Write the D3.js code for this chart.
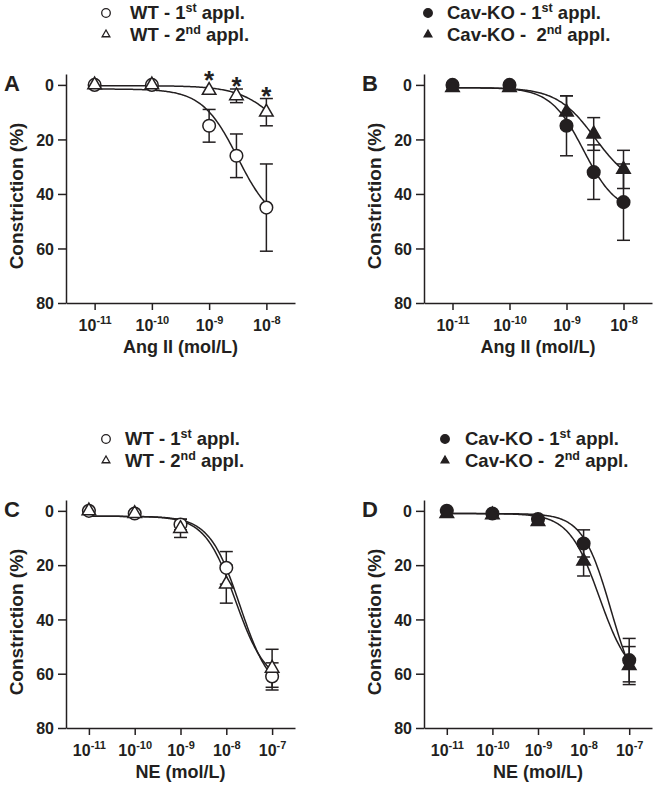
<!DOCTYPE html>
<html>
<head>
<meta charset="utf-8">
<script src="https://cdn.jsdelivr.net/npm/d3@7"></script>
<style>
body{margin:0;background:#fff}
svg text{font-family:"Liberation Sans",Arial,sans-serif;font-weight:bold;fill:#231f20;white-space:pre}
</style>
</head>
<body>
<svg width="654" height="786"></svg>
<script>
// concentrations (mol/L)
const angConc = [1e-11, 1e-10, 1e-9, 3e-9, 1e-8]
const neConc = [1e-11, 1e-10, 1e-9, 1e-8, 1e-7]
const angTicks = [1e-11, 1e-10, 1e-9, 1e-8]
const neTicks = [1e-11, 1e-10, 1e-9, 1e-8, 1e-7]
const yTicks = [0, 20, 40, 60, 80]

// constriction (%) mean and error
const wt1Ang = [0, 0, 15, 26, 45],   wt1AngErr = [0, 0, 6, 8, 16]
const wt2Ang = [0, 0, 2, 4, 10],     wt2AngErr = [0, 0, 0, 2.5, 5]
const ko1Ang = [0, 0, 15, 32, 43],   ko1AngErr = [0, 0, 11, 10, 14]
const ko2Ang = [1, 1, 10, 18, 31],   ko2AngErr = [0, 0, 6, 6, 7]
const wt1Ne = [0, 1, 5, 21, 61],     wt1NeErr = [0, 0, 2, 6, 5]
const wt2Ne = [0, 1, 6.5, 27, 58],   wt2NeErr = [0, 0, 3.3, 7, 7]
const ko1Ne = [0, 1, 3, 12, 55],     ko1NeErr = [0, 0, 0, 5, 8]
const ko2Ne = [1, 1.5, 4, 18.5, 57], ko2NeErr = [0, 0, 1, 5.5, 7]

// sigmoid fits: bottom, top, logEC50, hill
const wt1AngFit = [1.5, 52, -8.5, 1.4]
const wt2AngFit = [0.3, 30, -7.7, 1.2]
const ko1AngFit = [1, 47, -8.7, 1.5]
const ko2AngFit = [1, 38, -8.5, 1.3]
const wt1NeFit = [2, 68, -7.7, 1.3]
const wt2NeFit = [2, 64, -7.8, 1.3]
const ko1NeFit = [1, 72, -7.4, 1.4]
const ko2NeFit = [1, 63, -7.65, 1.3]

// significance marks (index into angConc, WT 2nd appl.)
const wtAngStars = [2, 3, 4]

const wtLegend = [["WT - 1", "st", " appl."], ["WT - 2", "nd", " appl."]]
const koLegend = [["Cav-KO - 1", "st", " appl."], ["Cav-KO -  2", "nd", " appl."]]

const ink = "#231f20"
const svg = d3.select("svg")

function sigmoid(f, lx){
	return f[0] + (f[1] - f[0]) / (1 + Math.pow(10, (f[2] - lx) * f[3]))
}

function marker(sel, shape, filled, size){
	if (shape == "circle") {
		sel.append("circle").attr("r", size)
	} else {
		sel.append("path").attr("d", d3.symbol().type(d3.symbolTriangle).size(size * size * 2)())
	}
	sel.selectAll("circle, path")
		.attr("fill", filled ? ink : "#fff")
		.attr("stroke", ink)
		.attr("stroke-width", 1.5)
}

function drawPanel(p){
	const x = d3.scaleLog().domain(p.xDomain).range([p.left, p.right])
	const y = d3.scaleLinear().domain([-4, 80]).range([p.top, p.bottom])

	const ya = svg.append("g").attr("transform", `translate(${p.left},0)`)
		.call(d3.axisLeft(y).tickValues(yTicks).tickSize(8).tickPadding(4).tickSizeOuter(0))
		.attr("font-size", 16)
	const xa = svg.append("g").attr("transform", `translate(0,${p.bottom})`)
		.call(d3.axisBottom(x).tickValues(p.xTicks).tickSize(7).tickSizeOuter(0).tickFormat(""))
		.attr("font-size", 16)
	svg.selectAll(".domain, .tick line").attr("stroke", ink).attr("stroke-width", 1.5)
	ya.selectAll(".tick text").attr("dy", "0.36em")
	xa.selectAll(".tick text").attr("y", 28).attr("dy", null).attr("text-anchor", "middle")
		.each(function(d){
			const t = d3.select(this)
			t.append("tspan").text("10")
			t.append("tspan").attr("dy", -7).attr("font-size", 11).text(String(Math.round(Math.log10(d))))
		})

	// titles
	svg.append("text").attr("x", (p.left + p.right) / 2).attr("y", p.bottom + 50)
		.attr("text-anchor", "middle").attr("font-size", 18).text(p.xTitle)
	svg.append("text").attr("transform", `translate(${p.left - 50},${p.top + 122}) rotate(-90)`)
		.attr("text-anchor", "middle").attr("dy", "0.35em").attr("font-size", 19).text("Constriction (%)")
	svg.append("text").attr("x", p.left - 62).attr("y", p.top + 17).attr("font-size", 22).text(p.letter)

	const line = d3.line().x(d => x(Math.pow(10, d[0]))).y(d => y(d[1]))
	const lastLog = Math.log10(p.conc[p.conc.length - 1])

	p.series.forEach(s => {
		const pts = d3.range(-11, lastLog + 0.001, 0.02).map(lx => [lx, sigmoid(s.fit, lx)])
		svg.append("path").attr("d", line(pts)).attr("fill", "none").attr("stroke", ink).attr("stroke-width", 1.5)
	})

	p.series.forEach(s => {
		const eb = svg.append("g").attr("stroke", ink).attr("stroke-width", 1.5)
		s.mean.forEach((m, i) => {
			if (!s.err[i]) return
			const cx = x(p.conc[i])
			eb.append("line").attr("x1", cx).attr("x2", cx).attr("y1", y(m - s.err[i])).attr("y2", y(m + s.err[i]))
			;[m - s.err[i], m + s.err[i]].forEach(v => {
				eb.append("line").attr("x1", cx - 6.5).attr("x2", cx + 6.5).attr("y1", y(v)).attr("y2", y(v))
			})
		})
	})

	p.series.forEach(s => {
		s.mean.forEach((m, i) => {
			const g = svg.append("g").attr("transform", `translate(${x(p.conc[i])},${y(m)})`)
			marker(g, s.shape, s.filled, 6.3)
		})
	})

	if (p.stars) {
		const s = p.series[p.stars.series]
		p.stars.idx.forEach(i => {
			const top = Math.min(y(s.mean[i] - s.err[i]), y(s.mean[i]) - 7) - 9
			svg.append("text").attr("x", x(p.conc[i])).attr("y", top + 15)
				.attr("text-anchor", "middle").attr("font-size", 26).text("*")
		})
	}

	// legend
	p.legend.forEach((lab, j) => {
		const s = p.series[j]
		const by = p.legY + j * 21.5
		const g = svg.append("g").attr("transform", `translate(${p.legMark},${by - 6})`)
		marker(g, s.shape, s.filled, j ? 3.6 : 4.3)
		g.selectAll("circle, path").attr("stroke-width", 1.3)
		const t = svg.append("text").attr("x", p.legText).attr("y", by).attr("font-size", 18.5)
		t.append("tspan").text(lab[0])
		t.append("tspan").attr("dy", -7).attr("font-size", 12.5).text(lab[1])
		t.append("tspan").attr("dy", 7).text(lab[2])
	})
}

const angDomain = [Math.pow(10, -11.5), Math.pow(10, -7.5)]
const neDomain = [Math.pow(10, -11.5), Math.pow(10, -6.5)]

drawPanel({
	letter: "A", xTitle: "Ang II (mol/L)", left: 66, right: 295, top: 74, bottom: 303,
	xDomain: angDomain, xTicks: angTicks, conc: angConc,
	series: [
		{mean: wt1Ang, err: wt1AngErr, fit: wt1AngFit, shape: "circle", filled: false},
		{mean: wt2Ang, err: wt2AngErr, fit: wt2AngFit, shape: "triangle", filled: false}
	],
	stars: {series: 1, idx: wtAngStars},
	legend: wtLegend, legMark: 106, legText: 130, legY: 19
})
drawPanel({
	letter: "B", xTitle: "Ang II (mol/L)", left: 424, right: 652, top: 74, bottom: 303,
	xDomain: angDomain, xTicks: angTicks, conc: angConc,
	series: [
		{mean: ko1Ang, err: ko1AngErr, fit: ko1AngFit, shape: "circle", filled: true},
		{mean: ko2Ang, err: ko2AngErr, fit: ko2AngFit, shape: "triangle", filled: true}
	],
	legend: koLegend, legMark: 428, legText: 447, legY: 19
})
drawPanel({
	letter: "C", xTitle: "NE (mol/L)", left: 66, right: 295, top: 500, bottom: 728,
	xDomain: neDomain, xTicks: neTicks, conc: neConc,
	series: [
		{mean: wt1Ne, err: wt1NeErr, fit: wt1NeFit, shape: "circle", filled: false},
		{mean: wt2Ne, err: wt2NeErr, fit: wt2NeFit, shape: "triangle", filled: false}
	],
	legend: wtLegend, legMark: 106, legText: 125, legY: 445
})
drawPanel({
	letter: "D", xTitle: "NE (mol/L)", left: 424, right: 652, top: 500, bottom: 728,
	xDomain: neDomain, xTicks: neTicks, conc: neConc,
	series: [
		{mean: ko1Ne, err: ko1NeErr, fit: ko1NeFit, shape: "circle", filled: true},
		{mean: ko2Ne, err: ko2NeErr, fit: ko2NeFit, shape: "triangle", filled: true}
	],
	legend: koLegend, legMark: 445, legText: 465, legY: 445
})
</script>
</body>
</html>
